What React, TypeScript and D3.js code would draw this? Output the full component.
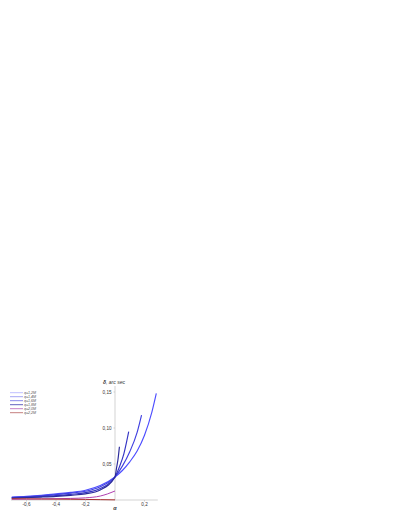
import React from "react";
import * as d3 from "d3";

const xTicks = [-0.6, -0.4, -0.2, 0.2];
const yTicks = [0.05, 0.1, 0.15];
const seriesNames = ["q=1,2M", "q=1,4M", "q=1,6M", "q=1,8M", "q=2,0M", "q=2,2M"];
const seriesColors = ["#4d4dff", "#4040e0", "#3434c4", "#2a2a9a", "#b040b0", "#a83030"];
const legendColors = ["#b8b8ff", "#9c9cf4", "#7a7ae8", "#5050b8", "#c070c0", "#c07070"];

const alphaLeft = [-0.7, -0.6, -0.5, -0.4, -0.3, -0.2, -0.1, 0];
const s12a = [...alphaLeft, 0.05, 0.1, 0.15, 0.2, 0.25, 0.28];
const s12d = [0.004, 0.005, 0.0065, 0.0085, 0.0105, 0.0135, 0.02, 0.032, 0.041, 0.053, 0.068, 0.09, 0.122, 0.148];
const s14a = [...alphaLeft, 0.05, 0.1, 0.15, 0.18];
const s14d = [0.0035, 0.0045, 0.0058, 0.0075, 0.0095, 0.0122, 0.0185, 0.032, 0.047, 0.067, 0.094, 0.118];
const s16a = [...alphaLeft, 0.03, 0.06, 0.08, 0.093];
const s16d = [0.003, 0.0038, 0.0048, 0.006, 0.0078, 0.0102, 0.016, 0.032, 0.046, 0.064, 0.082, 0.095];
const s18a = [...alphaLeft, 0.01, 0.02, 0.03];
const s18d = [0.0025, 0.0032, 0.004, 0.005, 0.0065, 0.0085, 0.014, 0.032, 0.044, 0.056, 0.074];
const s20a = [-0.7, -0.6, -0.5, -0.4, -0.3, -0.2, -0.1, -0.05, 0];
const s20d = [0.001, 0.0012, 0.0015, 0.0018, 0.0022, 0.003, 0.0055, 0.0085, 0.0125];
const s22a = [-0.7, -0.6, -0.5, -0.4, -0.3, -0.2, -0.1, 0];
const s22d = [0.0018, 0.0016, 0.0014, 0.0012, 0.001, 0.0008, 0.0005, 0.0002];

const allA = [s12a, s14a, s16a, s18a, s20a, s22a];
const allD = [s12d, s14d, s16d, s18d, s20d, s22d];

export default function App() {
  const x = d3.scaleLinear().domain([0, 0.2]).range([115, 144.5]);
  const y = d3.scaleLinear().domain([0, 0.15]).range([500, 392]);
  const line = d3
    .line<[number, number]>()
    .x((d) => x(d[0]))
    .y((d) => y(d[1]))
    .curve(d3.curveMonotoneX);
  const font = "'Liberation Sans', Arial, sans-serif";
  return (
    <svg
      width={407}
      height={527}
      style={{ position: "absolute", left: 0, top: 0, background: "#fff" }}
    >
      <line x1={x(-0.705)} x2={x(0.29)} y1={y(0)} y2={y(0)} stroke="#c8c8c8" strokeWidth={0.8} />
      <line x1={x(0)} x2={x(0)} y1={y(0)} y2={386} stroke="#c8c8c8" strokeWidth={0.8} />
      {xTicks.map((t) => (
        <g key={t}>
          <line x1={x(t)} x2={x(t)} y1={y(0)} y2={y(0) + 1.5} stroke="#bbb" strokeWidth={0.6} />
          <text x={x(t)} y={y(0) + 5.5} fontSize={4.6} fontFamily={font} textAnchor="middle" fill="#333">
            {t.toFixed(1).replace(".", ",")}
          </text>
        </g>
      ))}
      {yTicks.map((t) => (
        <g key={t}>
          <line x1={x(0) - 1.5} x2={x(0)} y1={y(t)} y2={y(t)} stroke="#bbb" strokeWidth={0.6} />
          <text x={x(0) - 3.5} y={y(t) + 1.6} fontSize={4.6} fontFamily={font} textAnchor="end" fill="#333">
            {t.toFixed(2).replace(".", ",")}
          </text>
        </g>
      ))}
      <text x={x(0) - 12} y={384} fontSize={5} fontFamily={font} fontStyle="italic" fill="#333">
        <tspan fontWeight="bold">δ</tspan>, arc sec
      </text>
      <text x={x(0)} y={510} fontSize={5.5} fontFamily={font} fontStyle="italic" fontWeight="bold" textAnchor="middle" fill="#333">
        α
      </text>
      {allA.map((as, i) => {
        const pts: [number, number][] = as.map((a, j) => [a, allD[i][j]]);
        return (
          <path
            key={i}
            d={line(pts) || ""}
            fill="none"
            stroke={seriesColors[i]}
            strokeWidth={i < 4 ? 1.15 : 1}
          />
        );
      })}
      {seriesNames.map((n, i) => (
        <g key={n}>
          <line x1={10} x2={23} y1={392.7 + i * 4} y2={392.7 + i * 4} stroke={legendColors[i]} strokeWidth={0.9} />
          <text x={24} y={394.2 + i * 4} fontSize={3.6} fontFamily={font} fontStyle="italic" fill="#555">
            {n}
          </text>
        </g>
      ))}
    </svg>
  );
}
